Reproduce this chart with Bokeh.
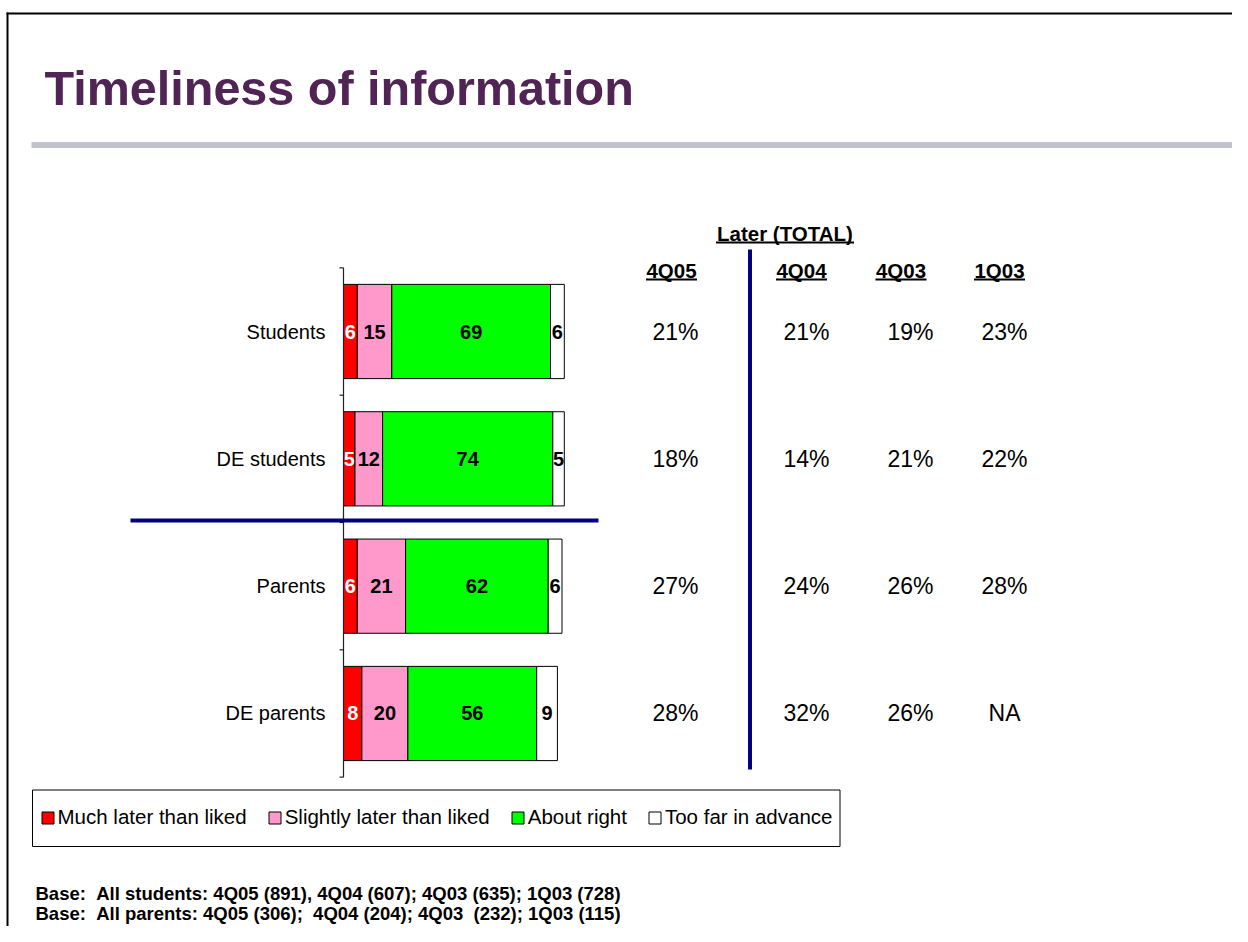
import numpy as np
from bokeh.plotting import figure
from bokeh.models import Range1d, ColumnDataSource, Legend, LegendItem
from bokeh.embed import file_html
from bokeh.resources import INLINE
from bokeh.core.properties import value

# ---------------- data ----------------
title_text = "Timeliness of information"
categories = ["Students", "DE students", "Parents", "DE parents"]
series_names = ["Much later than liked", "Slightly later than liked",
                "About right", "Too far in advance"]
much_later = [6, 5, 6, 8]
slightly_later = [15, 12, 21, 20]
about_right = [69, 74, 62, 56]
too_far = [6, 5, 6, 9]

table_title = "Later (TOTAL)"
periods = ["4Q05", "4Q04", "4Q03", "1Q03"]
later_4q05 = ["21%", "18%", "27%", "28%"]
later_4q04 = ["21%", "14%", "24%", "32%"]
later_4q03 = ["19%", "21%", "26%", "26%"]
later_1q03 = ["23%", "22%", "28%", "NA"]

base_notes = [
    "Base:  All students: 4Q05 (891), 4Q04 (607); 4Q03 (635); 1Q03 (728)",
    "Base:  All parents: 4Q05 (306);  4Q04 (204); 4Q03  (232); 1Q03 (115)",
]

# ---------------- styles ----------------
FONT = value("Liberation Sans")
series_colors = ["#FF0000", "#FF99CC", "#00FF00", "#FFFFFF"]
label_colors = ["#FFFFFF", "#000000", "#000000", "#000000"]
NAVY = "#000080"
PURPLE = "#502454"

W, H = 1232, 926
PX_PER_PCT = 2.3          # horizontal scale of the bars (px per %)
ZERO_X = 343              # canvas x of the 0 % baseline
ROW_PX = 127.33           # vertical size of one category row
TOP_ROW_Y = 331           # canvas y of the first category's centre

n = len(categories)
rows = [n - i for i in range(n)]

x_range = Range1d(-ZERO_X / PX_PER_PCT, (W - ZERO_X) / PX_PER_PCT)
y_range = Range1d(n - (H - TOP_ROW_Y) / ROW_PX, n + TOP_ROW_Y / ROW_PX)

p = figure(width=W, height=H, x_range=x_range, y_range=y_range,
           output_backend="svg", toolbar_location=None,
           x_axis_location=None, y_axis_location=None, min_border=0,
           min_border_left=0, min_border_right=0, min_border_top=0,
           min_border_bottom=0)
p.grid.visible = False
p.outline_line_color = None
p.background_fill_color = "white"
p.border_fill_color = "white"

# pixel coordinate system (top-left origin) for decorations
p.extra_x_ranges = {"px": Range1d(0, W)}
p.extra_y_ranges = {"px": Range1d(H, 0)}
PX = dict(x_range_name="px", y_range_name="px")

# ---------------- frame and title ----------------
p.segment(x0=6, x1=W, y0=13, y1=13, line_color="black", line_width=2, **PX)
p.segment(x0=7, x1=7, y0=12, y1=H, line_color="black", line_width=2, **PX)
p.segment(x0=31, x1=1238, y0=144.5, y1=144.5, line_color="#C3C3CD",
          line_width=6, **PX)
p.text(x=[44], y=[87.5], text=[title_text], text_font=FONT,
       text_font_size="48.5px", text_font_style="bold", text_color=PURPLE,
       text_baseline="middle", **PX)

# ---------------- stacked bars ----------------
series = [much_later, slightly_later, about_right, too_far]
lefts = np.zeros(n)
renderers = []
for vals, name, col, lcol in zip(series, series_names, series_colors, label_colors):
    vals = np.array(vals, dtype=float)
    rights = lefts + vals
    src = ColumnDataSource(dict(
        y=rows, left=lefts, right=rights, mid=(lefts + rights) / 2,
        label=[str(int(v)) for v in vals], cat=categories))
    r = p.hbar(y="y", left="left", right="right", height=0.74, source=src,
               fill_color=col, line_color="black", line_width=1)
    p.text(x="mid", y="y", text="label", source=src, text_font=FONT,
           text_font_size="20px", text_font_style="bold", text_color=lcol,
           text_align="center", text_baseline="middle")
    renderers.append((name, r))
    lefts = rights

# category axis
bounds = [0.5 + k for k in range(n + 1)]
p.segment(x0=0, x1=0, y0=bounds[0], y1=bounds[-1], line_color="#222222",
          line_width=1.2)
p.segment(x0=[339] * len(bounds), x1=[343] * len(bounds), y0=bounds, y1=bounds,
          line_color="#222222", line_width=1.2, x_range_name="px")
cat_src = ColumnDataSource(dict(x=[325] * n, y=rows, text=categories))
p.text(x="x", y="y", text="text", source=cat_src, text_font=FONT,
       text_font_size="20px", text_color="black", text_align="right",
       text_baseline="middle", x_range_name="px")

# separators
p.segment(x0=130, x1=598, y0=520, y1=520, line_color=NAVY, line_width=4, **PX)
p.segment(x0=749.5, x1=749.5, y0=249, y1=769, line_color=NAVY, line_width=4, **PX)

# ---------------- Later (TOTAL) table ----------------
p.text(x=[784.5], y=[232.5], text=[table_title], text_font=FONT,
       text_font_size="20.5px", text_font_style="bold", text_color="black",
       text_align="center", text_baseline="middle", **PX)
p.segment(x0=784.5 - 69, x1=784.5 + 69, y0=242, y1=242, line_color="black",
          line_width=2, **PX)

head_x = [671, 801, 900.5, 999]
val_x = [675, 806, 910, 1004]
hw = 25.5
p.text(x=head_x, y=[270] * 4, text=periods, text_font=FONT,
       text_font_size="20.5px", text_font_style="bold", text_color="black",
       text_align="center", text_baseline="middle", **PX)
p.segment(x0=[hx - hw for hx in head_x], x1=[hx + hw for hx in head_x],
          y0=[279] * 4, y1=[279] * 4, line_color="black", line_width=2, **PX)

for xc, col_vals in zip(val_x, [later_4q05, later_4q04, later_4q03, later_1q03]):
    src = ColumnDataSource(dict(x=[xc] * n, y=rows, text=col_vals))
    p.text(x="x", y="y", text="text", source=src, text_font=FONT,
           text_font_size="23px", text_color="black", text_align="center",
           text_baseline="middle", x_range_name="px")

# ---------------- legend ----------------
p.quad(left=[32], right=[839.5], top=[789.5], bottom=[846], fill_color=None,
       line_color="black", line_width=1, **PX)
legend = Legend(items=[LegendItem(label=nm, renderers=[r]) for nm, r in renderers],
                location=(39.5, 97), orientation="horizontal",
                glyph_width=15, glyph_height=15, label_standoff=3, spacing=20,
                padding=5, margin=0, border_line_color=None,
                background_fill_alpha=0, label_text_font="Liberation Sans",
                label_text_font_size="20.5px", label_text_color="black",
                label_height=15)
p.add_layout(legend)

# ---------------- base notes ----------------
notes_shown = [s.replace("  ", " \u00a0") for s in base_notes]
p.text(x=[35, 35], y=[893, 913], text=notes_shown, text_font=FONT,
       text_font_size="18.5px", text_font_style="bold", text_color="black",
       text_baseline="middle", **PX)

open("out.html", "w").write(file_html(p, INLINE))
